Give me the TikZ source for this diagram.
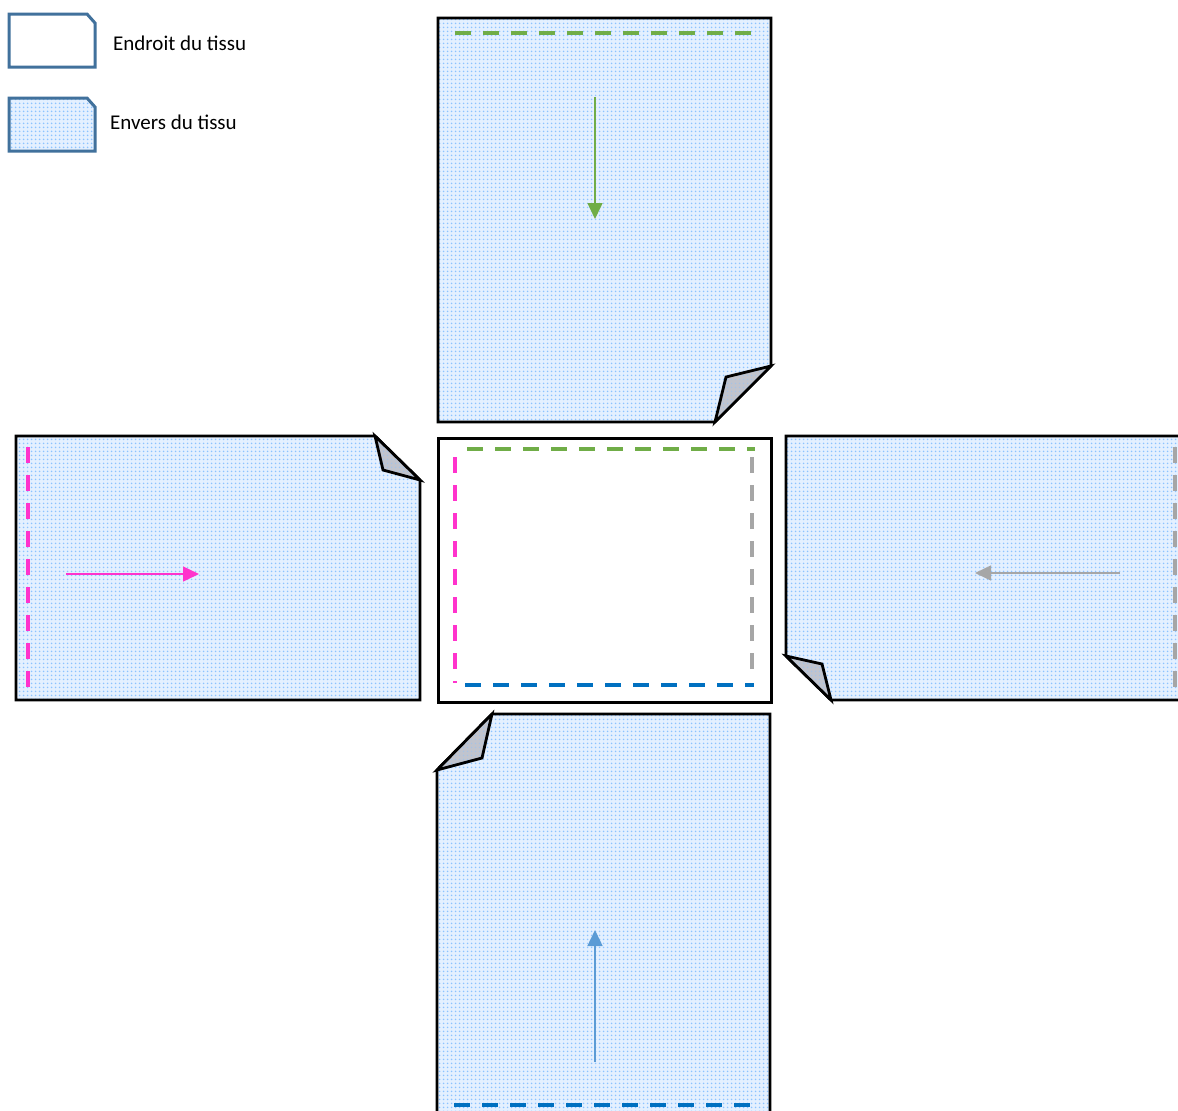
\documentclass[tikz,border=0pt]{standalone}
\usepackage{fontspec}
\setmainfont{Carlito}
\usetikzlibrary{arrows.meta,patterns.meta}
\definecolor{legblue}{RGB}{65,113,156}
\definecolor{dotblue}{RGB}{140,195,255}
\definecolor{bgblue}{RGB}{228,240,255}
\definecolor{flapgray}{RGB}{192,196,206}
\definecolor{sgreen}{RGB}{112,173,71}
\definecolor{spink}{RGB}{255,51,204}
\definecolor{sgray}{RGB}{166,166,166}
\definecolor{sblue}{RGB}{0,112,192}
\definecolor{ablue}{RGB}{91,155,213}
\tikzset{
  fabric/.style={preaction={fill=bgblue}, preaction={pattern={Dots[radius=1.1pt,distance=4pt]}, pattern color=dotblue}},
  panel/.style={fabric, draw=black, line width=2.8pt, line join=miter},
  flap/.style={preaction={fill=flapgray}, preaction={pattern={Dots[radius=0.9pt,distance=4pt]}, pattern color=dotblue!60!flapgray}, draw=black, line width=2.8pt, line join=miter},
  seam/.style={line width=4pt, dash pattern=on 16pt off 12pt},
  dirarrow/.style={line width=1.5pt, -{Triangle[length=16pt,width=15pt]}},
  legendbox/.style={draw=legblue, line width=3pt},
  legtext/.style={anchor=west, inner sep=0pt, font=\fontsize{21pt}{25pt}\selectfont}
}
\begin{document}
\begin{tikzpicture}[x=1pt,y=-1pt]
\useasboundingbox (0,0) rectangle (1178,1111);
\clip (0,0) rectangle (1178,1111);
\fill[white] (0,0) rectangle (1178,1111);

% legend
\draw[legendbox] (9,14) -- (87,14) -- (95,23) -- (95,67) -- (9,67) -- cycle;
\node[legtext] (endroit) at (113,43) {Endroit du tissu};
\draw[fabric, legendbox] (9,98) -- (87,98) -- (95,107) -- (95,151) -- (9,151) -- cycle;
\node[legtext] (envers) at (110,122) {Envers du tissu};

% top panel
\draw[panel] (438,18) -- (771,18) -- (771,366) -- (715,422) -- (438,422) -- cycle;
\draw[flap] (771,366) -- (726,377) -- (715,422) -- cycle;
\draw[seam, sgreen] (455,33) -- (752,33);
\coordinate (tA) at (595,97);
\coordinate (tB) at (595,219);
\draw[dirarrow, sgreen] (tA) -- (tB);

% left panel
\draw[panel] (16,436) -- (375,436) -- (420,480) -- (420,700) -- (16,700) -- cycle;
\draw[flap] (375,436) -- (383,470) -- (420,480) -- cycle;
\draw[seam, spink] (28,447) -- (28,690);
\coordinate (lA) at (66,574);
\coordinate (lB) at (199,574);
\draw[dirarrow, spink] (lA) -- (lB);

% center panel (right side)
\draw[fill=white, draw=black, line width=3pt] (438,438) rectangle (771,702);
\draw[seam, sgreen] (467,449) -- (755,449);
\draw[seam, spink] (455,457) -- (455,683);
\draw[seam, sgray] (752,457) -- (752,671);
\draw[seam, sblue] (465,685) -- (754,685);

% right panel
\draw[panel] (786,436) -- (1190,436) -- (1190,700) -- (831,700) -- (786,656) -- cycle;
\draw[flap] (786,656) -- (822,664) -- (831,700) -- cycle;
\draw[seam, sgray] (1175,447) -- (1175,690);
\coordinate (rA) at (1120,573);
\coordinate (rB) at (975,573);
\draw[dirarrow, sgray] (rA) -- (rB);

% bottom panel
\draw[panel] (492,714) -- (770,714) -- (770,1125) -- (437,1125) -- (437,770) -- cycle;
\draw[flap] (492,714) -- (482,758) -- (437,770) -- cycle;
\draw[seam, sblue] (454,1105) -- (752,1105);
\coordinate (bA) at (595,1062);
\coordinate (bB) at (595,930);
\draw[dirarrow, ablue] (bA) -- (bB);
\end{tikzpicture}
\end{document}
